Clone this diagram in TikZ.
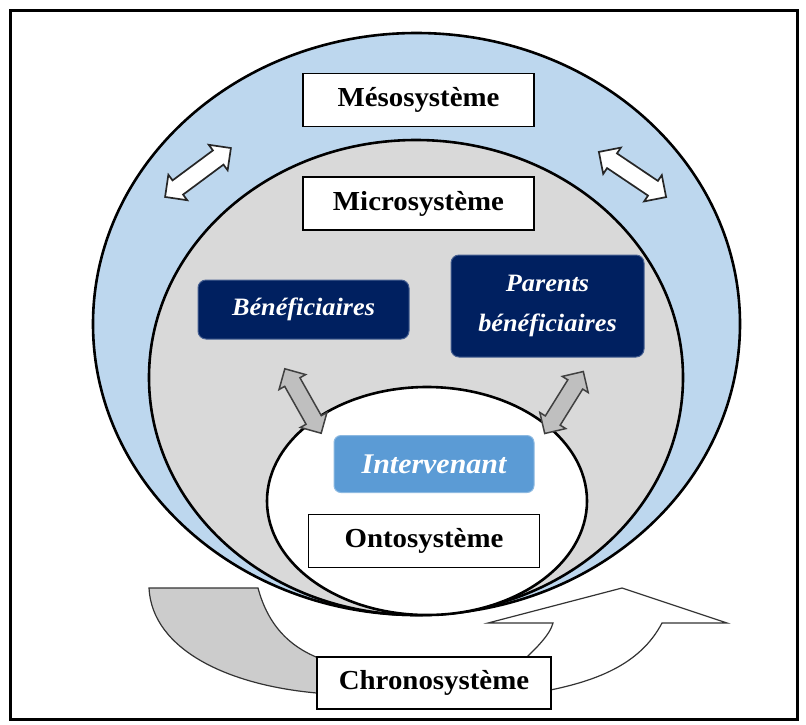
\documentclass[tikz,border=0pt]{standalone}
\usepackage{fontspec}
\setmainfont{Liberation Serif}[FakeStretch=1.05]
\usetikzlibrary{shapes.arrows}

\definecolor{mesoblue}{RGB}{189,215,238}
\definecolor{microgray}{RGB}{217,217,217}
\definecolor{navy}{RGB}{0,32,96}
\definecolor{navyedge}{RGB}{70,95,145}
\definecolor{intblue}{RGB}{91,155,213}
\definecolor{intedge}{RGB}{140,185,225}
\definecolor{arrowgray}{RGB}{191,191,191}
\definecolor{tabgray}{RGB}{204,204,204}

\tikzset{
  ring/.style={draw=black, line width=2.6pt},
  sysbox/.style={draw=black, line width=1.3pt, fill=white,
    minimum width=231pt, minimum height=53pt, inner sep=0pt,
    font=\fontsize{27.5}{30}\selectfont\bfseries},
  navybox/.style={draw=navyedge, line width=1pt, fill=navy, rounded corners=8pt,
    text=white, inner sep=0pt, align=center,
    font=\fontsize{25}{40}\selectfont\bfseries\itshape},
  intbox/.style={draw=intedge, line width=1pt, fill=intblue, rounded corners=7pt,
    text=white, inner sep=0pt, minimum width=200pt, minimum height=57pt,
    font=\fontsize{28.5}{30}\selectfont\bfseries\itshape},
  wdarrow/.style={double arrow, draw=black!85, fill=white, line width=1.7pt,
    inner xsep=0pt, inner ysep=8pt, double arrow head extend=7pt,
    double arrow tip angle=90},
  gdarrow/.style={double arrow, draw=black!75, fill=arrowgray, line width=1.5pt,
    inner xsep=0pt, inner ysep=8pt, double arrow head extend=6.5pt,
    double arrow tip angle=90},
  chronoshape/.style={draw=black!80, line width=1.2pt},
}

\begin{document}
\begin{tikzpicture}[x=1pt,y=-1pt]
\useasboundingbox (0,0) rectangle (806,724);
\fill[white] (0,0) rectangle (806,724);

% outer frame
\draw[line width=3pt] (10,10) rectangle (797,719);

% nested systems
\draw[ring, fill=mesoblue] (416.5,324) ellipse [x radius=323.5pt, y radius=291pt];
\draw[ring, fill=microgray] (416,377.5) ellipse [x radius=267pt, y radius=237.5pt];
\draw[ring, fill=white] (427,501) ellipse [x radius=160pt, y radius=114pt];

% labels of the systems
\node[sysbox] (meso) at (418.5,100) {Mésosystème};
\node[sysbox] (micro) at (418.5,203.5) {Microsystème};
\node[sysbox] (onto) at (424,541) {Ontosystème};

% actors
\node[navybox, minimum width=211pt, minimum height=59pt] (benef) at (303.5,309.5) {Bénéficiaires};
\node[navybox, minimum width=193pt, minimum height=102pt] (parents) at (547.5,306) {Parents\\bénéficiaires};
\node[intbox] (interv) at (434,464) {Intervenant};

% exchanges between systems
\node[wdarrow, minimum height=82pt, rotate=36.6] (mesoL) at (198,172.5) {};
\node[wdarrow, minimum height=81pt, rotate=-33.9] (mesoR) at (632.5,174.5) {};
\node[gdarrow, minimum height=74pt, rotate=-60.6] (microL) at (303,401) {};
\node[gdarrow, minimum height=73pt, rotate=58.1] (microR) at (564,402.5) {};

% time flow
\filldraw[chronoshape, fill=tabgray]
  (149,588) -- (258,588) .. controls (268,625) and (290,650) .. (330,662)
  -- (330,694) .. controls (230,688) and (152,650) .. (149,588) -- cycle;
\filldraw[chronoshape, fill=white]
  (515,668) .. controls (535,650) and (550,635) .. (553,623)
  -- (488,623) -- (622,588) -- (727,623) -- (662,623)
  .. controls (640,665) and (595,682) .. (540,692) -- cycle;
\node[sysbox, minimum width=234pt, minimum height=52pt] (chrono) at (434,683) {Chronosystème};
\end{tikzpicture}
\end{document}
